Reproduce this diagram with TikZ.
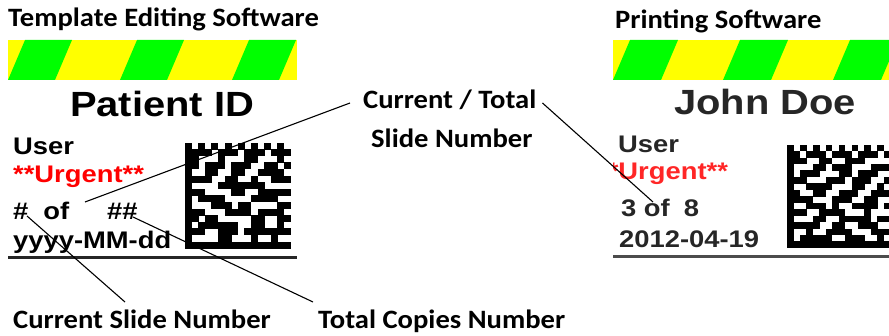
\documentclass[tikz,border=0pt]{standalone}
\usepackage{fontspec}
\usepackage{xstring}
\usetikzlibrary{positioning,calc}
\newfontfamily\notefont{Carlito}[FakeStretch=1.08]
\newfontfamily\labfont{Liberation Sans}[FakeStretch=1.14]
\definecolor{stripegreen}{RGB}{0,255,0}
\definecolor{stripeyellow}{RGB}{255,255,0}
\definecolor{urgentred}{RGB}{255,0,0}

% 16x16 code pattern: left x, top y, module size, rows
\newcommand{\codeblock}[4]{%
  \foreach \crow [count=\j from 0] in {#4} {
    \foreach \i in {1,...,16} {
      \StrChar{\crow}{\i}[\cbit]
      \ifnum\cbit=1
        \fill ({#1+(\i-1)*#3},{#2-(\j+1)*#3}) rectangle ++({#3+0.3},{#3+0.3});
      \fi
    }
  }%
}

\begin{document}
\begin{tikzpicture}[
    x=1pt, y=1pt,
    note/.style={font=\notefont\bfseries\fontsize{26.5}{30}\selectfont, inner sep=0pt, anchor=base west},
    lab/.style={font=\labfont\bfseries\fontsize{24}{26}\selectfont, inner sep=0pt, anchor=base west},
    big/.style={lab, font=\labfont\bfseries\fontsize{35}{38}\selectfont},
    lead/.style={line width=1.1pt},
    rule/.style={line width=3pt, draw=black!85}
]
\useasboundingbox (0,0) rectangle (889,335);

% titles
\node[note] (tmpl) at (8,308) {Template Editing Software};
\node[note] (prnt) at (615,306) {Printing Software};

% template label
\begin{scope}
  \clip (8,255) rectangle (297,295);
  \fill[stripeyellow] (8,255) rectangle (297,295);
  \foreach \k in {0,1,2}
    \fill[stripegreen] (25+112*\k,295) -- ++(47,0) -- ++(-17,-40) -- ++(-47,0) -- cycle;
\end{scope}
\node[big] (pid) at (70,218) {Patient ID};
\node[lab] (user) at (13,180) {User};
\node[lab, text=urgentred] (urg) at (13,152) {**Urgent**};
\node[lab] (cnt) at (13,115) {\#\hspace{15pt}of\hspace{38pt}\#\#};
\node[lab] (date) at (13,87) {yyyy-MM-dd};
\codeblock{185}{192}{6.6}{1010101010101010,1111011101110111,1100010001100010,1101110111001101,
  1001100110011110,1111001100100111,1000011111110000,1110000110011111,
  1011110000111100,1000111011000011,1110001111011110,1101100000110011,
  1011111100110010,1110011101111111,1000011000100100,1111111111111111}
\draw[rule] (8,77.5) -- (297,77.5);

% printed label
\begin{scope}
  \clip (613,0) rectangle (889,335);
  \fill[stripeyellow] (613,255) rectangle (889,295);
  \foreach \k in {0,1,2}
    \fill[stripegreen] (630+110*\k,295) -- ++(48,0) -- ++(-17,-40) -- ++(-48,0) -- cycle;
  \node[big, text=black!85] (name) at (674,220) {John Doe};
  \node[lab, text=black!85] (ruser) at (618,182) {User};
  \node[lab, text=urgentred!85] (rurg) at (597,155) {**Urgent**};
  \node[lab, text=black!85] (rcnt) at (621,118) {3 of\hspace{14pt}8};
  \node[lab, text=black!85] (rdate) at (619,88) {2012-04-19};
  \codeblock{787}{190}{6.45}{1010101010101010,1101110111011101,1110011001110000,1000110111000111,
    1011100011011100,1110001110111001,1001111000110010,1100110011100111,
    1111000111001100,1001110100111101,1110011110001000,1000110011111011,
    1111100110011100,1001001111000111,1011111001110010,1111111111111111}
  \draw[rule, draw=black!70] (613,78.5) -- (889,78.5);
\end{scope}

% annotations
\node[note] (ctop) at (363,226) {Current / Total};
\node[note] (cbot) at (371,187) {Slide Number};
\node[note] (csn) at (13,7) {Current Slide Number};
\node[note] (tcn) at (318,7) {Total Copies Number};

\coordinate (ofgap) at (85,133);
\coordinate (ofright) at (653,133);
\coordinate (hashcur) at (27,119);
\coordinate (hashtot) at (133,118);

\draw[lead] ([shift={(-13,6)}]ctop.base west) -- (ofgap);
\draw[lead] ([shift={(6,6)}]ctop.base east) -- (ofright);
\draw[lead] (hashcur) -- ([shift={(112,26)}]csn.base west);
\draw[lead] (hashtot) -- ([shift={(-5,26)}]tcn.base west);
\end{tikzpicture}
\end{document}
